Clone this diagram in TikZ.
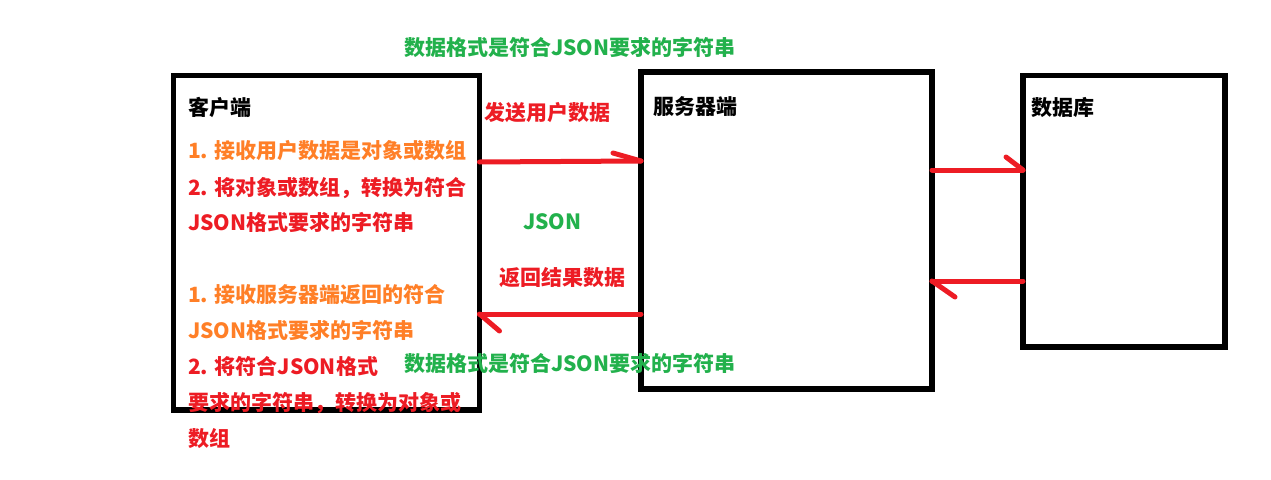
\documentclass[tikz,border=0pt]{standalone}
\usepackage{fontspec}
\setmainfont{Noto Sans CJK SC}
\definecolor{pred}{HTML}{ED1C24}
\definecolor{porange}{HTML}{FF7F27}
\definecolor{pgreen}{HTML}{22B14C}
\tikzset{
  box/.style={draw=black, line width=5.5pt, outer sep=0pt, inner sep=0pt, anchor=north west},
  redline/.style={draw=pred, line width=5pt, line cap=round},
  txt/.style={anchor=base west, inner sep=0pt, font=\bfseries\fontsize{21}{25}\selectfont},
}
\begin{document}
\begin{tikzpicture}[x=1pt,y=-1pt]
\useasboundingbox[fill=white] (0,0) rectangle (1271,479);
% boxes
\node[box, minimum width=306pt, minimum height=334.5pt] (client) at (173.5,75.5) {};
\node[box, minimum width=291pt, minimum height=317pt] (server) at (641,72) {};
\node[box, minimum width=202pt, minimum height=271.5pt] (db) at (1023,75.5) {};
% arrows
\draw[redline] (client.east |- 0,162) -- (server.west |- 0,161);
\draw[redline] (server.west |- 0,161) -- ++(-28,-8);
\draw[redline] (server.west |- 0,314) -- (client.east |- 0,314);
\draw[redline] (client.east |- 0,314) -- ++(20,17);
\draw[redline] (server.east |- 0,170) -- (db.west |- 0,170);
\draw[redline] (db.west |- 0,170) -- ++(-17,-13);
\draw[redline] (db.west |- 0,281) -- (server.east |- 0,281);
\draw[redline] (server.east |- 0,281) -- ++(23,16);
% texts
\node[txt] (t1) at (188,115.5) {客户端};
\node[txt, text=porange] (t2) at (188,158.5) {1. 接收用户数据是对象或数组};
\node[txt, text=pred] (t3) at (188,195.5) {2. 将对象或数组，转换为符合};
\node[txt, text=pred] (t4) at (188,230.5) {JSON格式要求的字符串};
\node[txt, text=porange] (t5) at (188,302.5) {1. 接收服务器端返回的符合};
\node[txt, text=porange] (t6) at (188,338.5) {JSON格式要求的字符串};
\node[txt, text=pred] (t7) at (188,374.5) {2. 将符合JSON格式};
\node[txt, text=pred] (t8) at (188,410.5) {要求的字符串，转换为对象或};
\node[txt, text=pred] (t9) at (188,446) {数组};
\node[txt, text=pgreen] (g1) at (404,55) {数据格式是符合JSON要求的字符串};
\node[txt, text=pgreen] (g2) at (404,371) {数据格式是符合JSON要求的字符串};
\node[txt, text=pred] (s1) at (484,120) {发送用户数据};
\node[txt, text=pgreen] (j1) at (523,229) {JSON};
\node[txt, text=pred] (r1) at (499,285) {返回结果数据};
\node[txt] (sv) at (653,114) {服务器端};
\node[txt] (dbt) at (1031,115) {数据库};
\end{tikzpicture}
\end{document}
